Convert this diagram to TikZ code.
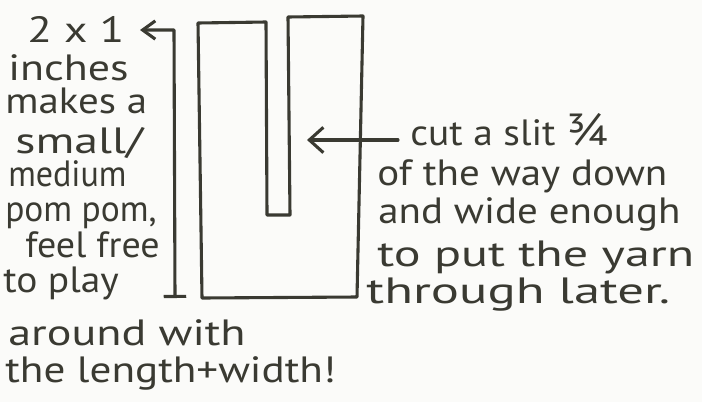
\documentclass[tikz,border=0pt]{standalone}
\usepackage{fontspec}
\setmainfont{PT Sans}
\usepackage{tikz}
\usetikzlibrary{arrows.meta,calc}
\definecolor{PenGray}{RGB}{58,58,50}
\definecolor{PaperWhite}{RGB}{251,251,249}

\begin{document}
\begin{tikzpicture}[x=0.025cm, y=-0.025cm,
  scrawl/.style={font=\fontsize{26}{28}\selectfont, text=PenGray, inner sep=0pt, anchor=base west},
  ink/.style={draw=PenGray, line width=2.2pt, line join=round, line cap=round}]
\fill[PaperWhite] (0,0) rectangle (702,402);
\useasboundingbox (0,0) rectangle (702,402);

% left note
\node[scrawl, xscale=1.24] (l1) at (27,42) {2 x 1};
\node[scrawl, xscale=1.2] (l2) at (8,80) {inches};
\node[scrawl, xscale=1.12] (l3) at (5,113) {makes a};
\node[scrawl, xscale=1.31] (l4) at (15,153) {small/};
\node[scrawl, xscale=0.93] (l5) at (8,186) {medium};
\node[scrawl, xscale=0.97] (l6) at (5,221) {pom pom,};
\node[scrawl, xscale=1.04] (l7) at (25,257) {feel free};
\node[scrawl, xscale=1.08] (l8) at (3,292) {to play};
\node[scrawl, xscale=1.26] (l9) at (8,345) {around with};
\node[scrawl, xscale=1.18] (l10) at (5,382) {the length+width!};

% right note
\node[scrawl, xscale=1.08] (r1) at (410,145) {cut a slit {\fontsize{32}{32}\selectfont ¾}};
\node[scrawl, xscale=1.12] (r2) at (377,185) {of the way down};
\node[scrawl, xscale=1.12] (r3) at (378,223) {and wide enough};
\node[scrawl, xscale=1.37] (r4) at (377,266) {to put the yarn};
\node[scrawl, xscale=1.44] (r5) at (366,303) {through later.};

% the card with its slit
\draw[ink] (198,23) -- (266,22) -- (267,215) -- (290,215) -- (288,17)
  -- (363,16) -- (357,297) -- (202,298) -- cycle;

% length marker
\coordinate (dimbot) at (175,298);
\coordinate (dimtop) at (174,30);
\coordinate (dimtip) at (140,30);
\draw[ink, {Bar[width=16pt, line width=2.2pt]}-{Straight Barb[length=9pt, width=13pt, line width=2.2pt]}]
  (dimbot) -- (dimtop) -- (dimtip);

% pointer to the slit
\coordinate (slitpt) at (307,140);
\draw[ink, -{Straight Barb[length=10pt, width=18pt, line width=2.2pt]}]
  (r1.base west) ++(-12,-5) -- (slitpt);
\end{tikzpicture}
\end{document}
